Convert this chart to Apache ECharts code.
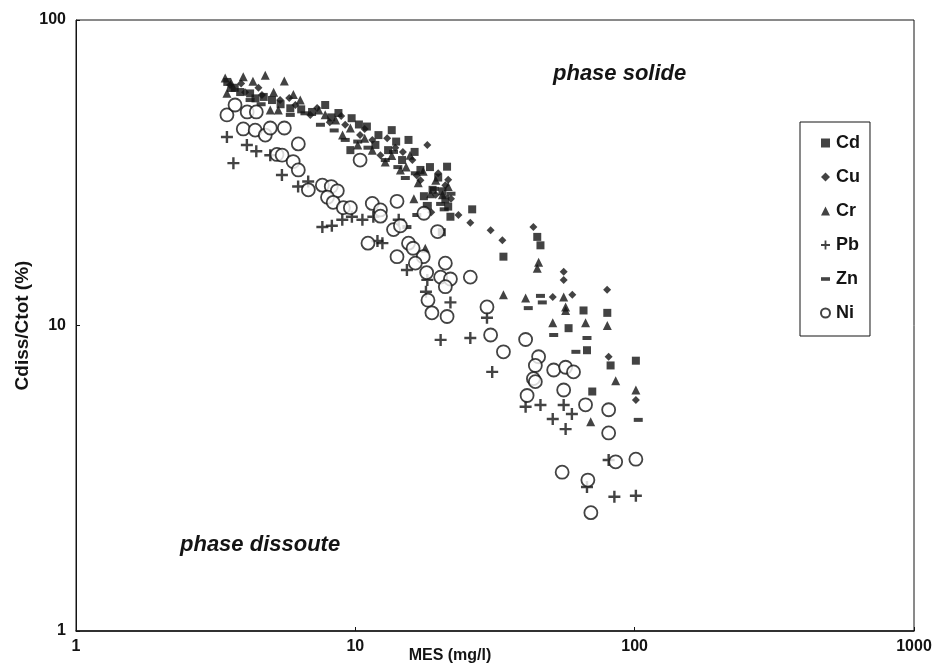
<!DOCTYPE html>
<html><head><meta charset="utf-8">
<script src="https://cdn.jsdelivr.net/npm/echarts@6/dist/echarts.min.js"></script>
<style>html,body{margin:0;padding:0;background:#fff}#c{width:947px;height:670px}</style>
</head><body><div id="c"></div>
<script>
var seriesNames = ['Cd','Cu','Cr','Pb','Zn','Ni'];
var xTicks = [1,10,100,1000];
var yTicks = [1,10,100];
var cdData = [[3.48,62.7],[3.87,58.1],[4.39,55.4],[5.03,54.7],[5.85,51.4],[7.0,50],[7.8,52.7],[8.7,49.6],[9.7,47.7],[11.0,44.8],[12.1,42.0],[13.5,43.6],[13.1,37.5],[15.5,40.5],[14.7,34.8],[17.1,32.3],[21.3,33.1],[18.9,27.8],[21.0,25.9],[21.9,22.7],[20.4,20.2],[26.2,24.0],[33.9,16.8],[44.8,19.5],[46.0,18.3],[65.6,11.2],[79.8,11.0],[58.0,9.8],[67.5,8.3],[82,7.4],[101,7.67],[70.5,6.08],[9.6,37.5],
  [3.7,60],[4.2,57.5],[4.7,56],[5.4,53],[6.4,51],[8.2,48],[10.3,45.5],[11.8,39],[14,40],[16.3,37],[18.5,33],[19.8,30.5],[20.5,27.5],[17.6,26.5],[21.5,24.5]];
var cuData = [[3.56,61.3],[4.03,58],[4.63,56.8],[5.38,54.7],[6.1,52.7],[6.9,48.9],[8.1,46.3],[9.2,45.4],[10.4,42],[11.5,40.5],[12.3,36.1],[13.9,38.2],[16,34.8],[18.1,39.0],[17.1,29.9],[19.4,26.8],[21,28.8],[23.4,23],[25.8,21.7],[30.5,20.5],[33.6,19.0],[43.4,21.0],[55.7,15.0],[55.7,14.1],[50.9,12.4],[59.8,12.6],[79.7,13.1],[80.7,7.9],[101,5.7],
  [3.9,62],[4.5,60],[5.8,55.5],[7.3,51.5],[8.9,48.5],[10.8,44],[13,41],[14.8,37],[16.6,31],[19.8,31.5],[21.5,30],[22,26],[18.7,23.5]];
var crData = [[3.42,64.6],[3.97,65.2],[4.76,65.9],[5.57,63.1],[3.47,57.6],[4.96,50.7],[5.3,50.7],[6.35,54.7],[7.4,50.7],[8.5,47.1],[9.6,44.3],[10.2,39.0],[11.5,37.5],[12.8,34.3],[14.5,32.3],[15.7,36.1],[16.8,29.3],[19.4,29.9],[20.5,26.8],[17.8,17.9],[33.9,12.6],[45.3,16.1],[44.8,15.4],[40.7,12.3],[55.7,12.4],[56.6,11.5],[66.7,10.2],[79.8,10.0],[50.9,10.2],[85.5,6.6],[101,6.15],[69.6,4.84],[56.6,11.2],
  [3.6,62],[4.3,63],[5.1,58],[6.0,57],[7.8,49],[9,42],[10.8,41],[13.5,36],[15.2,33],[17.5,32],[18.6,27],[21.5,28.5],[16.2,26]];
var pbData = [[3.47,41.4],[3.66,34.0],[4.09,39.0],[4.42,37.2],[4.96,36.1],[5.46,31.1],[6.24,28.5],[6.78,29.6],[7.62,21.0],[8.24,21.2],[8.98,22.2],[9.72,22.7],[10.6,22.2],[11.6,22.7],[12.5,18.6],[14.3,22.2],[12.0,18.9],[15.3,15.2],[17.9,12.9],[18.1,14.1],[21.9,11.9],[29.6,10.6],[20.2,8.97],[25.8,9.10],[30.9,7.05],[40.7,5.42],[46,5.49],[50.9,4.94],[55.7,5.49],[59.6,5.13],[56.6,4.58],[67.5,2.96],[80.7,3.63],[84.6,2.75],[101,2.77]];
var znData = [[4.2,54.7],[5.85,48.9],[7.5,45.4],[9.2,40.5],[11.1,38.2],[12.8,34.8],[15.1,30.4],[18.1,25.0],[18.1,24.3],[16.6,23.0],[15.3,21.0],[20.2,25],[41.6,11.4],[46,12.5],[46.7,11.9],[51.3,9.31],[61.6,8.2],[67.5,9.10],[103,4.91],
  [3.6,59],[4.6,53],[6.6,49.5],[8.4,43.5],[10.2,40],[13.7,37],[14.2,33],[16.4,31.5],[19.2,28],[20.8,24],[22,27]];
var niData = [[3.47,48.9],[3.71,52.7],[4.10,50.0],[4.42,50.0],[3.97,44.0],[4.38,43.6],[4.76,42.0],[4.96,44.3],[5.57,44.3],[6.25,39.3],[5.24,36.3],[5.47,36.1],[5.99,34.4],[6.25,32.3],[6.79,27.8],[7.62,28.8],[8.20,28.5],[8.62,27.6],[7.95,26.3],[8.33,25.3],[9.06,24.3],[9.60,24.3],[10.4,34.8],[11.5,25.1],[12.3,23.9],[12.3,22.8],[14.1,25.5],[11.1,18.6],[13.7,20.6],[14.5,21.2],[15.5,18.6],[16.1,17.9],[17.5,16.8],[14.1,16.8],[16.4,16.0],[18.0,14.9],[21.0,16.0],[20.2,14.4],[21.9,14.2],[21.0,13.4],[25.8,14.4],[18.2,12.1],[18.8,11.0],[21.3,10.7],[17.6,23.3],[19.7,20.3],[29.6,11.5],[30.5,9.31],[33.9,8.2],[40.7,9.0],[45.3,7.9],[44.1,7.4],[43.4,6.7],[51.3,7.15],[56.6,7.3],[60.4,7.05],[55.7,6.15],[41.2,5.9],[66.7,5.5],[80.7,5.3],[80.7,4.45],[85.5,3.58],[101,3.65],[55,3.31],[68,3.12],[69.7,2.44],[44.1,6.55]];

var FONT = "'Liberation Sans Narrow','Liberation Sans',Arial,sans-serif";
var FONT2 = "'Liberation Sans',Arial,sans-serif";
var INK = '#141414';
var crossPath = 'path://M4,0H6V4H10V6H6V10H4V6H0V4H4Z';
var dashPath = 'path://M0,0H10V4H0Z';

var chart = echarts.init(document.getElementById('c'), null, {renderer:'canvas'});
function sc(name, data, symbol, size, extra){
  var s = {name:name, type:'scatter', data:data, symbol:symbol, symbolSize:size,
    itemStyle:{color:INK}, emphasis:{disabled:true}, silent:true};
  if (extra) for (var k in extra) s[k]=extra[k];
  return s;
}
chart.setOption({
  animation:false,
  backgroundColor:'#fff',
  grid:{left:76, right:33, top:20, bottom:39, outerBoundsMode:'none', containLabel:false,
    show:true, borderColor:INK, borderWidth:1, backgroundColor:'transparent'},
  xAxis:{type:'log', logBase:10, min:xTicks[0], max:xTicks[xTicks.length-1],
    name:'MES (mg/l)', nameLocation:'middle', nameGap:17, nameMoveOverlap:false,
    nameTextStyle:{fontFamily:FONT, fontWeight:'bold', fontSize:16, color:INK, padding:[0,90,0,0]},
    axisLine:{lineStyle:{color:INK, width:1.5}},
    axisTick:{show:true, inside:true, length:4, lineStyle:{color:INK}},
    splitLine:{show:false},
    axisLabel:{fontFamily:FONT, fontWeight:'bold', fontSize:16, color:INK, margin:8,
      formatter:function(v){return String(v);}}
  },
  yAxis:{type:'log', logBase:10, min:yTicks[0], max:yTicks[yTicks.length-1],
    name:'Cdiss/Ctot (%)', nameLocation:'middle', nameGap:44, nameRotate:90, nameMoveOverlap:false,
    nameTextStyle:{fontFamily:FONT, fontWeight:'bold', fontSize:19, color:INK},
    axisLine:{lineStyle:{color:INK, width:1}},
    axisTick:{show:true, inside:true, length:4, lineStyle:{color:INK}},
    splitLine:{show:false},
    axisLabel:{fontFamily:FONT, fontWeight:'bold', fontSize:16, color:INK, margin:10,
      formatter:function(v){return String(v);}}
  },
  legend:{orient:'vertical', left:800, top:122, data:seriesNames,
    itemWidth:9, itemHeight:9, itemGap:16,
    borderColor:INK, borderWidth:1, padding:[12,10,14,20],
    textStyle:{fontFamily:FONT2, fontWeight:'bold', fontSize:18, color:INK, padding:[0,0,0,1]}
  },
  graphic:[
    {type:'text', left:553, top:63, style:{text:'phase solide', font:"italic bold 22px "+FONT2, fill:INK}},
    {type:'text', left:180, top:534, style:{text:'phase dissoute', font:"italic bold 22px "+FONT2, fill:INK}}
  ],
  series:[
    sc('Cd', cdData, 'rect', 8),
    sc('Cu', cuData, 'diamond', 8),
    sc('Cr', crData, 'triangle', 9),
    sc('Pb', pbData, crossPath, 12),
    sc('Zn', znData, dashPath, [9,4]),
    sc('Ni', niData, 'circle', 13, {itemStyle:{color:'#fff', borderColor:INK, borderWidth:1.8}})
  ]
});
</script></body></html>
